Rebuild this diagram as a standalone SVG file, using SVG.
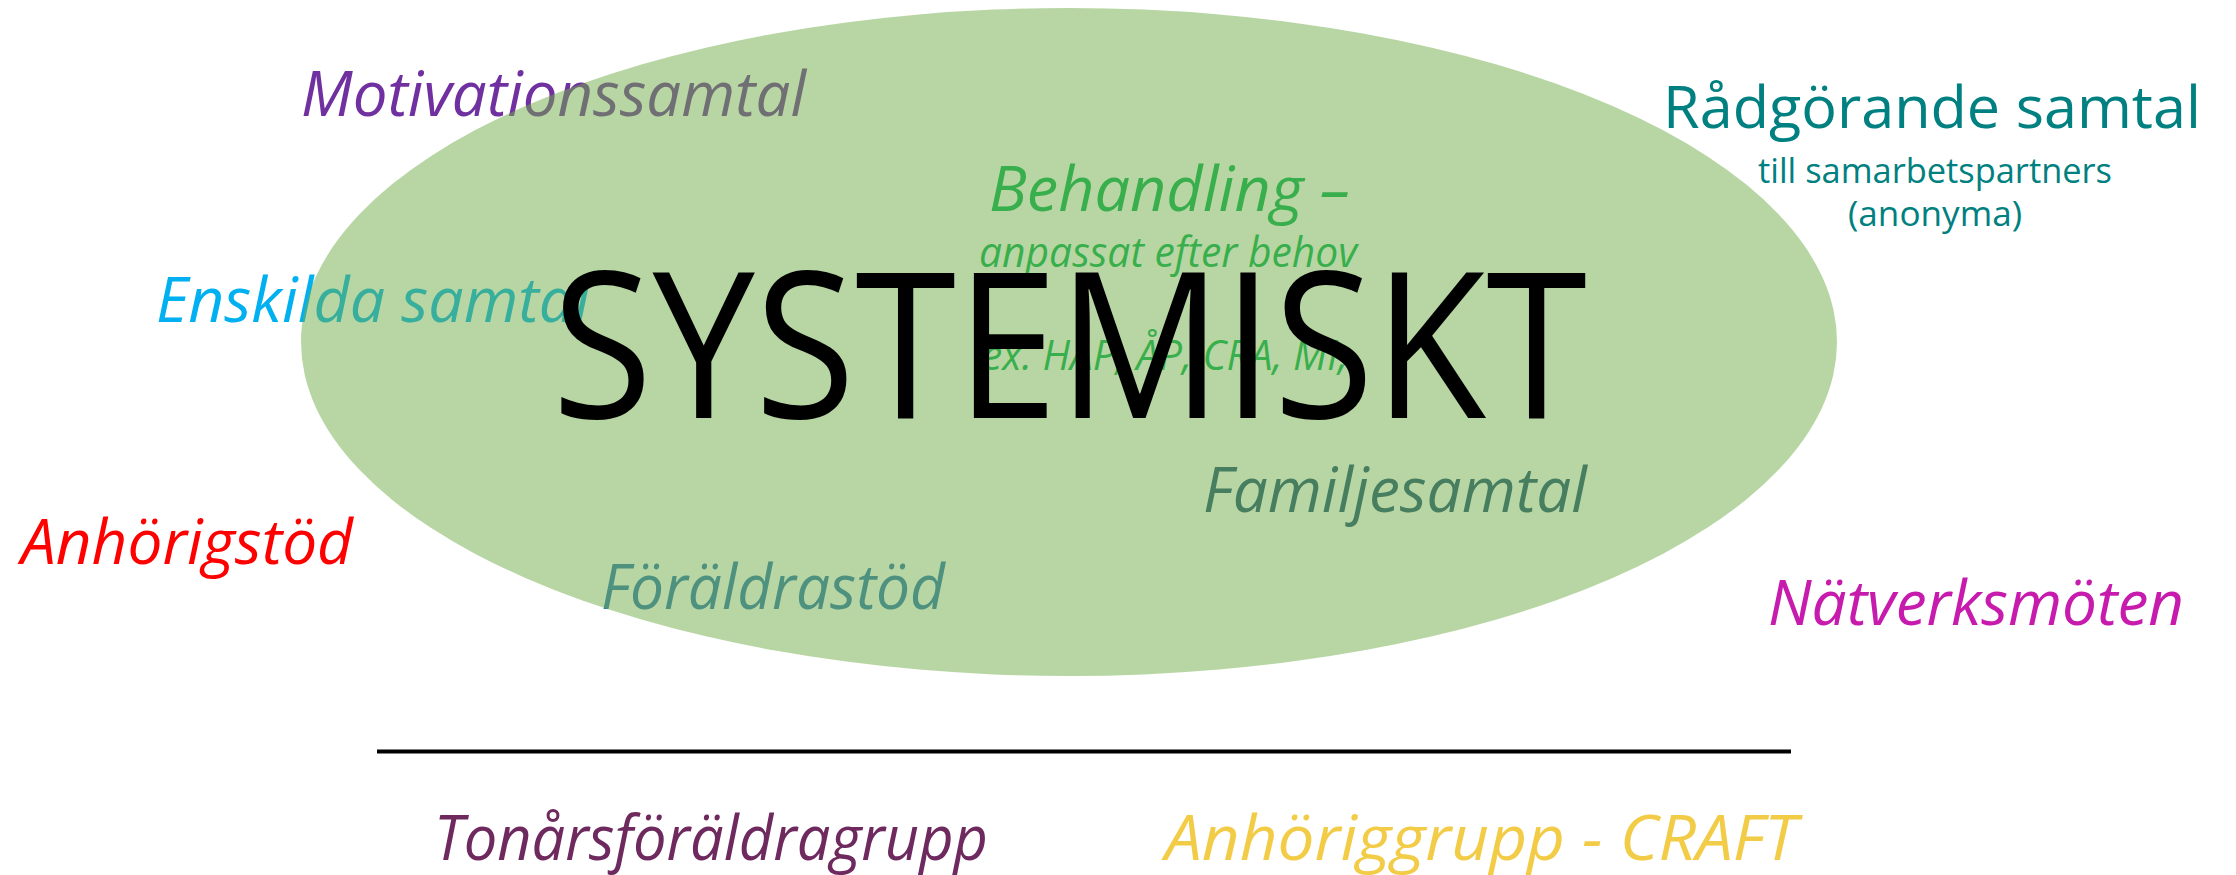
<svg xmlns="http://www.w3.org/2000/svg" width="2236" height="875" viewBox="0 0 2236 875">
<style>
text{font-family:"Open Sans","Noto Sans","Liberation Sans",sans-serif;}
.it{font-style:italic;}
.lbl{font-size:62px;}
</style>
<rect width="2236" height="875" fill="#ffffff"/>
<g id="motivationssamtal"><text class="it lbl" x="301" y="116" fill="#7030A0" textLength="505" lengthAdjust="spacingAndGlyphs">Motivationssamtal</text></g>
<g id="enskilda-samtal"><text class="it lbl" x="156" y="322" fill="#00B0F0" textLength="434" lengthAdjust="spacingAndGlyphs">Enskilda samtal</text></g>
<g id="anhorigstod"><text class="it lbl" x="21" y="564" fill="#FF0000" textLength="332" lengthAdjust="spacingAndGlyphs">Anhörigstöd</text></g>
<g id="behandling">
<text class="it" x="989" y="211" font-size="63" fill="#00B050" textLength="361" lengthAdjust="spacingAndGlyphs">Behandling –</text>
<text class="it" x="979" y="267" font-size="42" fill="#00B050" textLength="378" lengthAdjust="spacingAndGlyphs">anpassat efter behov</text>
<text class="it" x="982" y="370" font-size="42" fill="#00B050" textLength="366" lengthAdjust="spacingAndGlyphs">ex. HAP, ÅP, CRA, MI,</text>
</g>
<g id="familjesamtal"><text class="it lbl" x="1203" y="512" fill="#1F4E79" textLength="384" lengthAdjust="spacingAndGlyphs">Familjesamtal</text></g>
<g id="foraldrastod"><text class="it lbl" x="601" y="609" fill="#2E75B6" textLength="344" lengthAdjust="spacingAndGlyphs">Föräldrastöd</text></g>
<g id="radgorande-samtal" fill="#008080" text-anchor="middle">
<text x="1932" y="128" font-size="58" textLength="538" lengthAdjust="spacingAndGlyphs">Rådgörande samtal</text>
<text x="1935" y="183" font-size="34" textLength="354" lengthAdjust="spacingAndGlyphs">till samarbetspartners</text>
<text x="1935" y="226" font-size="34" textLength="174" lengthAdjust="spacingAndGlyphs">(anonyma)</text>
</g>
<g id="natverksmoten"><text class="it lbl" x="1768" y="625" fill="#C71BAE" textLength="416" lengthAdjust="spacingAndGlyphs">Nätverksmöten</text></g>
<g id="systemiskt-ellipse"><ellipse cx="1069" cy="342" rx="768" ry="334" fill="#70AD47" fill-opacity="0.5"/></g>
<g id="systemiskt"><text x="552" y="418" font-size="204" fill="#000000" textLength="1035" lengthAdjust="spacingAndGlyphs">SYSTEMISKT</text></g>
<g id="separator"><line x1="377" y1="751.5" x2="1791" y2="751.5" stroke="#000000" stroke-width="4"/></g>
<g id="tonarsforaldragrupp"><text class="it lbl" x="434" y="860" fill="#6E2A5E" textLength="554" lengthAdjust="spacingAndGlyphs">Tonårsföräldragrupp</text></g>
<g id="anhoriggrupp-craft"><text class="it lbl" x="1165" y="860" fill="#F3CC47" textLength="632" lengthAdjust="spacingAndGlyphs">Anhöriggrupp - CRAFT</text></g>
</svg>
